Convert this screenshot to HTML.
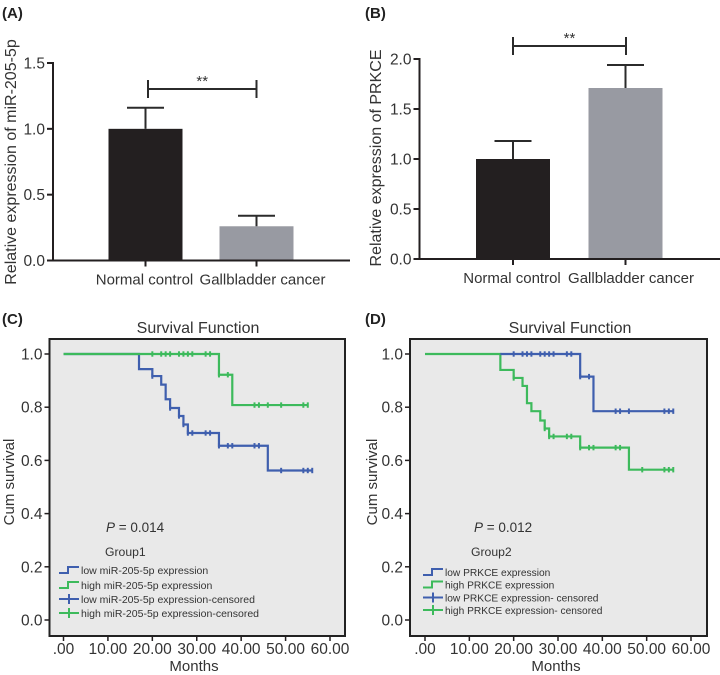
<!DOCTYPE html>
<html lang="en">
<head>
<meta charset="utf-8">
<title>Expression and survival charts</title>
<style>
html,body{margin:0;padding:0;background:#fff;width:720px;height:675px;overflow:hidden}
svg{display:block;font-family:"Liberation Sans",sans-serif;fill:#333}
</style>
</head>
<body>
<svg id="fig" width="720" height="675" viewBox="0 0 720 675" xmlns="http://www.w3.org/2000/svg">
  <text x="2" y="18" font-size="15" font-weight="bold" fill="#222">(A)</text>
  <text x="365" y="18" font-size="15" font-weight="bold" fill="#222">(B)</text>
  <text x="2" y="324" font-size="15" font-weight="bold" fill="#222">(C)</text>
  <text x="365" y="324" font-size="15" font-weight="bold" fill="#222">(D)</text>

  <text transform="translate(16,162) rotate(-90)" text-anchor="middle" font-size="16">Relative expression of miR-205-5p</text>
  <text transform="translate(381,158) rotate(-90)" text-anchor="middle" font-size="16">Relative expression of PRKCE</text>

  <text x="198" y="333" text-anchor="middle" font-size="16">Survival Function</text>
  <text x="570" y="333" text-anchor="middle" font-size="16">Survival Function</text>
  <text x="194" y="671" text-anchor="middle" font-size="15">Months</text>
  <text x="556" y="671" text-anchor="middle" font-size="15">Months</text>
  <text transform="translate(14,482) rotate(-90)" text-anchor="middle" font-size="15">Cum survival</text>
  <text transform="translate(377,482) rotate(-90)" text-anchor="middle" font-size="15">Cum survival</text>
</svg>
<script>
// Panel A / B bar data
const barCategories = ['Normal control', 'Gallbladder cancer'];
const barValuesA = [1.0, 0.26];
const barErrorsA = [0.16, 0.08];
const barValuesB = [1.0, 1.71];
const barErrorsB = [0.18, 0.23];
const barTicksA = [0, 0.5, 1.0, 1.5];
const barTicksB = [0, 0.5, 1.0, 1.5, 2.0];
const barColors = ['#231f20', '#989aa2'];

// Panel C / D survival data: step months and survival after each step
const survTicksX = [0, 10, 20, 30, 40, 50, 60];
const survTicksY = [0, 0.2, 0.4, 0.6, 0.8, 1.0];

const cLowMonths = [0, 17, 20, 22, 23, 24, 26, 27, 28, 35, 46, 56];
const cLowSurv = [1, 0.943, 0.917, 0.885, 0.83, 0.797, 0.767, 0.735, 0.703, 0.655, 0.562, 0.562];
const cLowCensor = [20, 24, 26, 27, 28, 29, 32, 33, 35, 37, 38, 43, 44, 49, 54, 55, 56];
const cHighMonths = [0, 35, 38, 55];
const cHighSurv = [1, 0.922, 0.808, 0.808];
const cHighCensor = [20, 22, 23, 24, 26, 27, 28, 29, 32, 33, 35, 37, 43, 44, 46, 49, 54, 55];

const dLowMonths = [17, 35, 38, 56];
const dLowSurv = [1, 0.915, 0.785, 0.785];
const dLowCensor = [20, 22, 23, 24, 26, 27, 28, 29, 32, 33, 35, 37, 43, 44, 46, 54, 55, 56];
const dHighMonths = [0, 17, 20, 22, 23, 24, 26, 27, 28, 35, 46, 56];
const dHighSurv = [1, 0.94, 0.91, 0.88, 0.815, 0.785, 0.75, 0.72, 0.69, 0.648, 0.565, 0.565];
const dHighCensor = [20, 27, 28, 29, 32, 33, 35, 37, 38, 43, 44, 49, 54, 55, 56];

const legendC = ['low miR-205-5p expression', 'high miR-205-5p expression', 'low miR-205-5p expression-censored', 'high miR-205-5p expression-censored'];
const legendD = ['low PRKCE expression', 'high PRKCE expression', 'low PRKCE expression- censored', 'high PRKCE expression- censored'];

const BLUE = '#3f5fae', GREEN = '#3dba5c', AXIS = '#231f20';
const svg = document.getElementById('fig');

function mk(tag, attrs, name) {
  const e = document.createElementNS('http://www.w3.org/2000/svg', tag);
  for (const k in attrs) e.setAttribute(k, attrs[k]);
  
  
  svg.appendChild(e);
  return e;
}
function line(x1, y1, x2, y2, color, w, name) {
  return mk('line', {x1: x1, y1: y1, x2: x2, y2: y2, stroke: color, 'stroke-width': w}, name);
}
function txt(x, y, s, size, anchor, name, extra) {
  const e = mk('text', Object.assign({x: x, y: y, 'font-size': size, 'text-anchor': anchor}, extra || {}), name);
  e.textContent = s;
  return e;
}

function barPanel(o) {
  const y = v => o.y0 - v / o.yMax * (o.y0 - o.yTop);
  o.values.forEach((v, i) => {
    const cx = o.centers[i];
    mk('rect', {x: cx - 37, y: y(v), width: 74, height: o.y0 - y(v), fill: barColors[i]}, 'bar-' + o.id + '-' + (i + 1));
    const top = y(v + o.errors[i]);
    line(cx, y(v), cx, top, '#2b2b2b', 2, 'error-bar-' + o.id + '-' + (i + 1));
    line(cx - 18.5, top, cx + 18.5, top, '#2b2b2b', 2, 'error-cap-' + o.id + '-' + (i + 1));
    line(cx, o.y0, cx, o.y0 + 6, AXIS, 2, 'x-tick-' + o.id + '-' + (i + 1));
    txt(cx + o.labelDx[i], o.y0 + 24, barCategories[i], 15, 'middle', 'x-label-' + o.id + '-' + (i + 1));
  });
  line(o.axisX, o.yTop - 1, o.axisX, o.y0 + 1, AXIS, 2, 'y-axis-' + o.id);
  line(o.axisX - 6, o.y0, o.xEnd, o.y0, AXIS, 2, 'x-axis-' + o.id);
  o.ticks.forEach(t => {
    line(o.axisX - 6, y(t), o.axisX, y(t), AXIS, 2, 'y-tick-' + o.id);
    txt(o.axisX - 8, y(t) + 5.5, t.toFixed(1), 15.5, 'end', 'y-label-' + o.id);
  });
  line(o.br[0], o.br[2], o.br[1], o.br[2], '#2b2b2b', 2, 'significance-bar-' + o.id);
  line(o.br[0], o.br[2] - 9, o.br[0], o.br[2] + 9, '#2b2b2b', 2, 'significance-cap-left-' + o.id);
  line(o.br[1], o.br[2] - 9, o.br[1], o.br[2] + 9, '#2b2b2b', 2, 'significance-cap-right-' + o.id);
  txt((o.br[0] + o.br[1]) / 2, o.br[2] - 3, '**', 15, 'middle', 'significance-stars-' + o.id);
}

barPanel({id: 'a', values: barValuesA, errors: barErrorsA, ticks: barTicksA, yMax: 1.5, y0: 260.5, yTop: 63,
  axisX: 53, xEnd: 350, centers: [145.5, 256.5], labelDx: [-1, 6], br: [148, 256.5, 89]});
barPanel({id: 'b', values: barValuesB, errors: barErrorsB, ticks: barTicksB, yMax: 2.0, y0: 259, yTop: 59,
  axisX: 419.5, xEnd: 720, centers: [513, 625.5], labelDx: [-1, 5.5], br: [513, 626, 46]});

function stepPath(months, surv, x, y) {
  let d = 'M' + x(months[0]) + ' ' + y(surv[0]);
  for (let i = 1; i < months.length; i++) {
    d += 'H' + x(months[i]) + 'V' + y(surv[i]);
  }
  return d;
}
function survAt(months, surv, m) {
  let s = surv[0];
  for (let i = 0; i < months.length; i++) if (months[i] <= m) s = surv[i];
  return s;
}
function series(months, surv, censor, color, x, y, name) {
  mk('path', {d: stepPath(months, surv, x, y), fill: 'none', stroke: color, 'stroke-width': 2.2}, name + '-curve');
  censor.forEach(m => {
    const s = survAt(months, surv, m);
    line(x(m), y(s) - 2.7, x(m), y(s) + 2.7, color, 2, name + '-censor-mark');
  });
}

function survPanel(o) {
  const x = m => o.x0 + m / 60 * (o.x60 - o.x0);
  const y = s => 620 - s * 266;
  mk('rect', {x: o.left, y: 339, width: o.right - o.left, height: 297, fill: '#e9e9e9', stroke: '#222', 'stroke-width': 2}, 'plot-area-' + o.id);
  survTicksY.forEach(t => {
    line(o.left - 5, y(t), o.left, y(t), AXIS, 1.5, 'y-tick-' + o.id);
    txt(o.left - 7, y(t) + 5.5, t.toFixed(1), 15.5, 'end', 'y-label-' + o.id);
  });
  survTicksX.forEach(t => {
    line(x(t), 636, x(t), 641, AXIS, 1.5, 'x-tick-' + o.id);
    txt(x(t), 654, t === 0 ? '.00' : t.toFixed(2), 15.5, 'middle', 'x-label-' + o.id);
  });
  o.draw(x, y);

  const p = mk('text', {x: o.pX, y: 532, 'font-size': 13.5}, 'p-value-' + o.id);
  const pi = document.createElementNS('http://www.w3.org/2000/svg', 'tspan');
  pi.setAttribute('font-style', 'italic');
  pi.textContent = 'P';
  p.appendChild(pi);
  p.appendChild(document.createTextNode(' = ' + o.p));
  txt(o.groupX, 556, o.group, 12.2, 'start', 'legend-title-' + o.id);

  o.legend.forEach((s, i) => {
    const ly = o.legY[i], c = i % 2 === 0 ? BLUE : GREEN, a = o.swX;
    txt(o.textX, ly + 4, s, o.legSize, 'start', 'legend-entry-' + o.id + '-' + (i + 1));
    if (i < 2) {
      mk('path', {d: 'M' + a + ' ' + (ly + 3) + 'H' + (a + 9) + 'V' + (ly - 3) + 'H' + (a + 20), fill: 'none', stroke: c, 'stroke-width': 2}, 'legend-step-swatch-' + o.id);
    } else {
      line(a, ly, a + 20, ly, c, 2, 'legend-line-swatch-' + o.id);
      line(a + 10, ly - 5, a + 10, ly + 5, c, 2, 'legend-cross-swatch-' + o.id);
    }
  });
}

survPanel({id: 'c', left: 49.5, right: 345, x0: 63.5, x60: 330, p: '0.014', pX: 106, groupX: 105, group: 'Group1',
  legend: legendC, legY: [570, 585, 599, 613], swX: 59, textX: 81, legSize: 10.5,
  draw: (x, y) => {
    series(cLowMonths, cLowSurv, cLowCensor, BLUE, x, y, 'low-mir-205-5p');
    series(cHighMonths, cHighSurv, cHighCensor, GREEN, x, y, 'high-mir-205-5p');
  }});
survPanel({id: 'd', left: 410, right: 707, x0: 425, x60: 691, p: '0.012', pX: 474, groupX: 471, group: 'Group2',
  legend: legendD, legY: [572, 584.5, 597.5, 610], swX: 423, textX: 445, legSize: 10.2,
  draw: (x, y) => {
    series(dHighMonths, dHighSurv, dHighCensor, GREEN, x, y, 'high-prkce');
    series(dLowMonths, dLowSurv, dLowCensor, BLUE, x, y, 'low-prkce');
  }});
</script>
</body>
</html>
